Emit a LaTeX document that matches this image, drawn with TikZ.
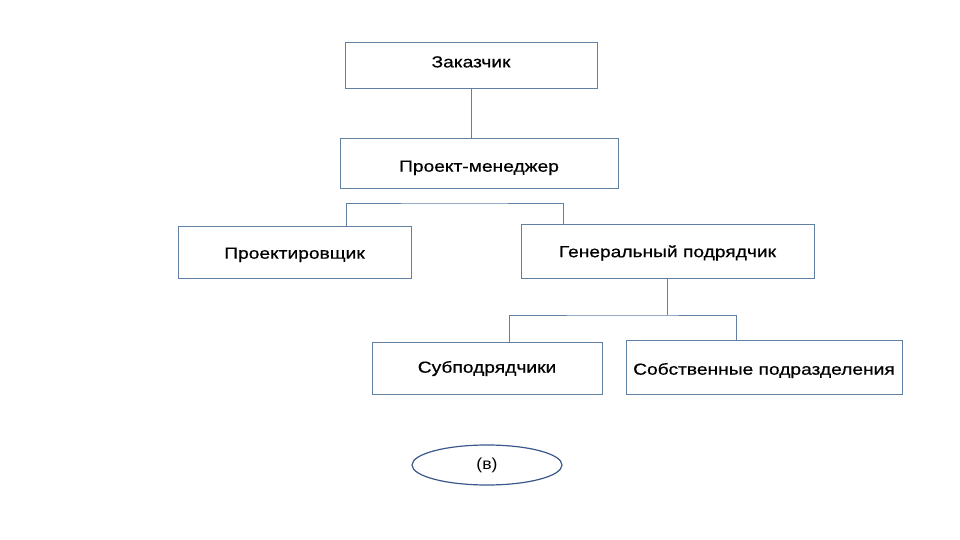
\documentclass[tikz,border=0pt]{standalone}
\usepackage{fontspec}
\setmainfont[FakeStretch=1.2,FakeBold=0.6]{Liberation Sans}
\newfontfamily\ovalfont[FakeStretch=1.1]{Liberation Sans}
\definecolor{boxline}{RGB}{96,128,166}
\definecolor{ovalline}{RGB}{58,88,140}
\usetikzlibrary{shapes.geometric}

\begin{document}
\begin{tikzpicture}[x=1pt,y=-1pt,
  box/.style={draw=boxline, line width=0.8pt, rectangle, inner sep=0pt,
    text height=12pt, text depth=4pt, font=\fontsize{16}{19}\selectfont},
  oval/.style={draw=ovalline, line width=1.2pt, ellipse, inner sep=0pt,
    text height=12pt, text depth=4pt, font=\ovalfont\fontsize{16}{19}\selectfont}]
\useasboundingbox[fill=white] (0,0) rectangle (960,540);
% boxes
\node[box, minimum width=252pt, minimum height=46pt, text height=8.8pt] (zak) at (471,65) {Заказчик};
\node[box, minimum width=278pt, minimum height=50pt, text height=21.4pt] (pm) at (479,163) {Проект-менеджер};
\node[box, minimum width=233pt, minimum height=52pt, text height=17.4pt] (proj) at (294.5,252) {Проектировщик};
\node[box, minimum width=293pt, minimum height=54pt, text height=16.4pt] (gen) at (667.5,251) {Генеральный подрядчик};
\node[box, minimum width=230pt, minimum height=52pt, text height=13.4pt] (sub) at (487,368) {Субподрядчики};
\node[box, minimum width=276pt, minimum height=54pt, text height=19.4pt] (own) at (764,367) {Собственные подразделения};
\node[oval, minimum width=150pt, minimum height=40pt] (label) at (487,465) {(в)};
% connectors
\coordinate (pmbar) at (454,203);
\coordinate (genbar) at (622,315);
\draw[boxline, line width=0.8pt] (zak.south) -- (zak.south |- pm.north);
\draw[boxline, line width=0.8pt] ([xshift=51.5pt]proj.north) |- (pmbar) -| ([xshift=-104.5pt]gen.north);
\draw[boxline, line width=0.8pt] (gen.south) -- (gen.south |- genbar);
\draw[boxline, line width=0.8pt] ([xshift=22pt]sub.north) |- (genbar) -| ([xshift=-28pt]own.north);
\end{tikzpicture}
\end{document}
